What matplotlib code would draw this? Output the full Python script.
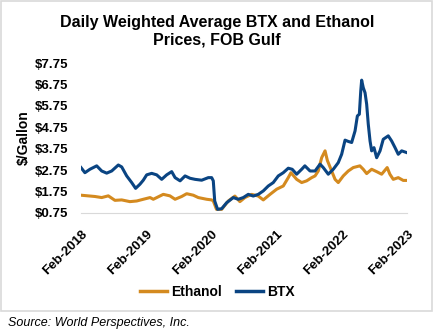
import pandas as pd
import matplotlib
matplotlib.use("Agg")
import matplotlib.pyplot as plt
import matplotlib.dates as mdates
from matplotlib.patches import Rectangle

plt.rcParams['font.family'] = ['Liberation Sans', 'DejaVu Sans']

# BTX daily weighted average price, $/gallon
btx_dates = [
    "2018-02-01", "2018-02-23", "2018-03-23", "2018-04-30", "2018-05-28", "2018-06-25",
    "2018-07-23", "2018-08-29", "2018-09-17", "2018-10-15", "2018-11-12", "2018-12-04",
    "2018-12-28", "2019-01-16", "2019-02-04", "2019-03-04", "2019-04-01", "2019-04-29",
    "2019-05-27", "2019-06-24", "2019-07-13", "2019-08-10", "2019-09-07", "2019-10-05",
    "2019-11-02", "2019-12-09", "2020-01-15", "2020-02-03", "2020-02-12", "2020-02-20",
    "2020-03-07", "2020-03-30", "2020-04-27", "2020-06-03", "2020-07-01", "2020-07-29",
    "2020-08-26", "2020-09-23", "2020-10-21", "2020-11-18", "2020-12-16", "2021-01-13",
    "2021-02-10", "2021-03-10", "2021-04-07", "2021-04-29", "2021-05-24", "2021-06-21",
    "2021-07-09", "2021-08-07", "2021-09-04", "2021-10-02", "2021-10-20", "2021-11-17",
    "2021-12-15", "2022-01-12", "2022-01-31", "2022-02-19", "2022-03-09", "2022-03-28",
    "2022-04-16", "2022-04-29", "2022-05-10", "2022-05-18", "2022-05-23", "2022-06-01",
    "2022-06-11", "2022-06-20", "2022-06-29", "2022-07-09", "2022-07-18", "2022-07-31",
    "2022-08-15", "2022-09-03", "2022-09-21", "2022-10-19", "2022-11-07", "2022-11-26",
    "2022-12-14", "2023-01-02", "2023-01-30",
]
btx_prices = [
    2.87, 2.63, 2.79, 2.95, 2.71, 2.61,
    2.71, 2.99, 2.90, 2.48, 2.17, 1.90,
    2.09, 2.28, 2.53, 2.60, 2.53, 2.32,
    2.53, 2.68, 2.40, 2.25, 2.48, 2.37,
    2.32, 2.28, 2.40, 2.40, 2.25, 1.31,
    0.92, 0.95, 1.23, 1.47, 1.39, 1.47,
    1.62, 1.54, 1.62, 1.78, 2.01, 2.17,
    2.48, 2.63, 2.84, 2.79, 2.56, 2.79,
    2.95, 2.71, 2.71, 3.03, 2.87, 2.56,
    2.79, 3.10, 3.49, 4.15, 4.09, 4.04,
    4.58, 5.28, 5.36, 6.45, 6.95, 6.60,
    6.36, 5.83, 4.90, 4.11, 3.65, 3.80,
    3.33, 3.65, 4.19, 4.35, 4.11, 3.80,
    3.49, 3.65, 3.57,
]

# Ethanol daily weighted average price, $/gallon
eth_dates = [
    "2018-02-01", "2018-03-12", "2018-04-20", "2018-05-28", "2018-07-04", "2018-08-10",
    "2018-09-17", "2018-11-02", "2018-12-10", "2019-01-16", "2019-02-23", "2019-03-13",
    "2019-05-08", "2019-06-14", "2019-07-13", "2019-08-19", "2019-09-16", "2019-10-23",
    "2019-11-20", "2020-01-06", "2020-02-03", "2020-02-12", "2020-03-01", "2020-03-30",
    "2020-05-06", "2020-06-12", "2020-07-10", "2020-08-07", "2020-09-14", "2020-10-21",
    "2020-11-18", "2020-12-26", "2021-02-01", "2021-03-10", "2021-04-07", "2021-04-22",
    "2021-05-24", "2021-06-21", "2021-07-19", "2021-08-16", "2021-09-04", "2021-09-22",
    "2021-10-11", "2021-10-30", "2021-11-12", "2021-12-06", "2021-12-25", "2022-01-12",
    "2022-02-09", "2022-03-09", "2022-04-06", "2022-05-13", "2022-06-01", "2022-06-20",
    "2022-07-18", "2022-08-15", "2022-09-12", "2022-10-13", "2022-10-28", "2022-11-16",
    "2022-12-14", "2023-01-11", "2023-01-30",
]
eth_prices = [
    1.58, 1.55, 1.52, 1.47, 1.55, 1.34,
    1.36, 1.28, 1.31, 1.39, 1.47, 1.39,
    1.62, 1.55, 1.39, 1.52, 1.65, 1.58,
    1.47, 1.39, 1.36, 1.31, 0.92, 0.92,
    1.31, 1.54, 1.28, 1.47, 1.62, 1.54,
    1.36, 1.62, 1.86, 2.01, 2.40, 2.63,
    2.32, 2.17, 2.25, 2.40, 2.48, 2.71,
    3.33, 3.65, 3.20, 2.71, 2.32, 2.17,
    2.48, 2.71, 2.87, 2.95, 2.79, 2.59,
    2.79, 2.68, 2.56, 2.87, 2.56, 2.32,
    2.40, 2.27, 2.27,
]

tick_dates = ["2018-02-01", "2019-02-01", "2020-02-01", "2021-02-01", "2022-02-01", "2023-02-01"]
y_ticks = [0.75, 1.75, 2.75, 3.75, 4.75, 5.75, 6.75, 7.75]

blue = "#0a4482"
orange = "#d48a1f"

fig = plt.figure(figsize=(4.34, 3.33), dpi=100)
fig.patches.append(Rectangle((0.002, 0.066), 0.993, 0.93, transform=fig.transFigure,
                             fill=False, edgecolor="#d9d9d9", linewidth=1.2))

ax = fig.add_axes([0.1866, 0.3604, 0.7512, 0.4504])
ax.plot(pd.to_datetime(eth_dates), eth_prices, color=orange, linewidth=2.2, label="Ethanol")
ax.plot(pd.to_datetime(btx_dates), btx_prices, color=blue, linewidth=2.2, label="BTX")

ax.set_xlim(pd.Timestamp("2018-02-01"), pd.Timestamp("2023-02-01"))
ax.set_ylim(0.75, 7.75)
ax.set_yticks(y_ticks)
ax.set_yticklabels([f"${v:.2f}" for v in y_ticks], fontsize=9.5, fontweight="bold")
ax.set_xticks(pd.to_datetime(tick_dates))
ax.xaxis.set_major_formatter(mdates.DateFormatter("%b-%Y"))
plt.setp(ax.get_xticklabels(), rotation=45, ha="right", rotation_mode="anchor",
         fontsize=9.5, fontweight="bold")
ax.tick_params(axis="y", length=0, pad=9)
ax.tick_params(axis="x", length=0, pad=11)
for s in ["top", "right", "left"]:
    ax.spines[s].set_visible(False)
ax.spines["bottom"].set_color("#d9d9d9")
ax.set_ylabel("$/Gallon", fontsize=10, fontweight="bold", labelpad=3)

fig.suptitle("Daily Weighted Average BTX and Ethanol\nPrices, FOB Gulf", x=0.5, y=0.955,
             fontsize=11.5, fontweight="bold", linespacing=1.25)

leg = fig.legend(loc="center", bbox_to_anchor=(0.5, 0.123), ncol=2, frameon=False,
                 prop={"size": 10, "weight": "bold"}, handlelength=2.0, columnspacing=1.0,
                 handletextpad=0.25)
for line in leg.get_lines():
    line.set_linewidth(2.5)

fig.text(0.018, 0.03, "Source: World Perspectives, Inc.", fontsize=9, style="italic",
         va="center", ha="left")

fig.savefig("out.png", dpi=100)
